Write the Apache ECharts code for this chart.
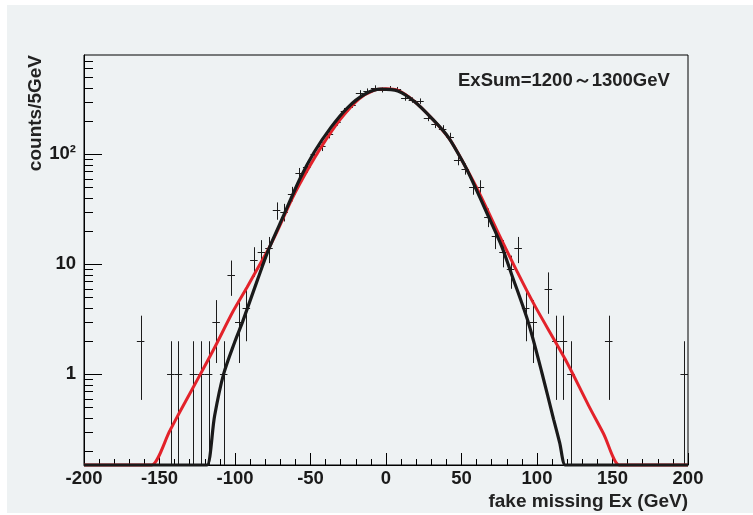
<!DOCTYPE html>
<html>
<head>
<meta charset="utf-8">
<script src="https://cdn.jsdelivr.net/npm/echarts@6/dist/echarts.min.js"></script>
<style>
  html, body { margin: 0; padding: 0; background: #ffffff; }
  #chart { position: absolute; left: 7px; top: 5px; width: 746px; height: 508px; }
</style>
</head>
<body>
<div id="chart"></div>
<script>
// ---- data ----
const binCenters = [-162.5, -142.5, -137.5, -127.5, -122.5, -117.5, -112.5, -107.5, -102.5, -97.5,
  -92.5, -87.5, -82.5, -77.5, -72.5, -67.5, -62.5, -57.5, -52.5, -47.5,
  -42.5, -37.5, -32.5, -27.5, -22.5, -17.5, -12.5, -7.5, -2.5, 2.5,
  7.5, 12.5, 17.5, 22.5, 27.5, 32.5, 37.5, 42.5, 47.5, 52.5,
  57.5, 62.5, 67.5, 72.5, 77.5, 82.5, 87.5, 92.5, 97.5, 107.5,
  112.5, 117.5, 122.5, 147.5, 197.5];
const binCounts = [2, 1, 1, 1, 1, 1, 3, 1, 8, 3,
  4, 11, 13, 14, 31, 30, 44, 67, 77, 100,
  118, 152, 196, 248, 281, 364, 378, 404, 385, 398,
  390, 325, 312, 305, 215, 187, 171, 145, 89, 74,
  50, 51, 27, 18, 13, 9, 14, 4, 3, 6,
  2, 2, 1, 2, 1];
const binHalfWidth = 2.5;

const blackFitX = [-200, -122, -118.5, -113.5, -107.6, -100, -95, -85, -77.7, -67.7,
  -57, -47.7, -36.6, -25.5, -14.4, -3.3, 7.8, 18.8, 30, 41,
  52, 57, 67.7, 76.5, 83.2, 94.3, 103.2, 111, 115, 118.7, 122, 200];
const blackFitY = [0.15, 0.15, 0.15, 0.42, 1.0, 2.0, 3.0, 7.3, 13.7, 28,
  60, 104, 175, 265, 350, 391, 377, 303, 215, 145,
  80, 58, 27.5, 14.7, 8.1, 2.95, 1.04, 0.39, 0.24, 0.15, 0.15, 0.15];

const redFitX = [-200, -158, -155.3, -143, -136.4, -123, -114, -101, -92, -83,
  -77, -72, -62, -52, -42, -30, -18, -8, 0, 8,
  18, 30, 42, 52, 62, 73.2, 87.2, 98.7, 118.7, 134.2, 144, 154.5, 157, 200];
const redFitY = [0.15, 0.15, 0.15, 0.31, 0.46, 1.0, 1.7, 3.8, 6.2, 10.3,
  14.5, 20, 40, 72, 122, 210, 318, 382, 395, 382,
  310, 215, 138, 80, 44, 20.8, 8.4, 4.17, 1.37, 0.52, 0.29, 0.15, 0.15, 0.15];

const xMin = -200, xMax = 200, xStep = 50;
const yMin = 0.15, yMax = 800;
const yMajorTicks = [1, 10, 100];
const yMajorLabels = ['1', '10', '10²'];
const yMinorTicks = [0.2, 0.3, 0.4, 0.5, 0.6, 0.7, 0.8, 0.9,
  2, 3, 4, 5, 6, 7, 8, 9,
  20, 30, 40, 50, 60, 70, 80, 90,
  200, 300, 400, 500, 600, 700];

const titleText = 'ExSum=1200～1300GeV';
const xTitle = 'fake missing Ex (GeV)';
const yTitle = 'counts/5GeV';

// ---- chart ----
const FONT = '"Liberation Sans", Arial, Helvetica, sans-serif';
const chart = echarts.init(document.getElementById('chart'), null, { renderer: 'canvas' });

const points = binCenters.map((x, i) => [x, binCounts[i]]);
const blackData = blackFitX.map((x, i) => [x, blackFitY[i]]);
const redData = redFitX.map((x, i) => [x, redFitY[i]]);

function renderCross(params, api) {
  const x = api.value(0), n = api.value(1);
  const e = Math.sqrt(n);
  const lo = Math.max(n - e, yMin);
  const hi = Math.min(n + e, yMax);
  const pc = api.coord([x, n]);
  const pl = api.coord([x - binHalfWidth, n]);
  const pr = api.coord([x + binHalfWidth, n]);
  const pLo = api.coord([x, lo]);
  const pHi = api.coord([x, hi]);
  const cx = Math.round(pc[0]) + 0.5;
  const cy = Math.round(pc[1]) + 0.5;
  const st = { stroke: '#1c1c1c', lineWidth: 1 };
  return {
    type: 'group',
    children: [
      { type: 'line', shape: { x1: pl[0], y1: cy, x2: pr[0], y2: cy }, style: st },
      { type: 'line', shape: { x1: cx, y1: pHi[1], x2: cx, y2: pLo[1] }, style: st }
    ]
  };
}

const option = {
  backgroundColor: '#eef2f3',
  animation: false,
  grid: {
    left: 77, right: 65, top: 50, bottom: 48,
    show: true, borderColor: '#000', borderWidth: 1, backgroundColor: 'transparent',
    outerBoundsMode: 'none', containLabel: false
  },
  xAxis: {
    type: 'value', min: xMin, max: xMax, interval: xStep,
    axisLine: { show: true, onZero: false, lineStyle: { color: '#000', width: 1 } },
    axisTick: { show: true, inside: true, length: 12, lineStyle: { color: '#000', width: 1 } },
    minorTick: { show: true, splitNumber: 5, length: 6, lineStyle: { color: '#000', width: 1 } },
    axisLabel: { show: true, margin: 4, color: '#1a1a1a', fontSize: 18.5, fontWeight: 'bold', fontFamily: FONT,
      showMinLabel: true, showMaxLabel: true, hideOverlap: false },
    splitLine: { show: false }
  },
  yAxis: [
    {
      type: 'log', logBase: 10, min: yMin, max: yMax, position: 'left',
      axisLine: { show: true, onZero: false, lineStyle: { color: '#000', width: 1 } },
      axisTick: { show: true, inside: true, length: 18, customValues: yMajorTicks, lineStyle: { color: '#000', width: 1 } },
      axisLabel: {
        show: true, margin: 8, color: '#1a1a1a', fontSize: 18.5, fontWeight: 'bold', fontFamily: FONT,
        customValues: yMajorTicks,
        formatter: function (v) {
          const i = yMajorTicks.findIndex(t => Math.abs(t - v) / t < 1e-6);
          return i >= 0 ? yMajorLabels[i] : '';
        }
      },
      splitLine: { show: false }
    },
    {
      type: 'log', logBase: 10, min: yMin, max: yMax, position: 'left', offset: 0,
      axisLine: { show: false, onZero: false },
      axisTick: { show: true, inside: true, length: 9, customValues: yMinorTicks, lineStyle: { color: '#000', width: 1 } },
      axisLabel: { show: false },
      splitLine: { show: false }
    }
  ],
  graphic: [
    { type: 'text', left: 451, top: 66, style: { text: titleText, font: 'bold 18.5px ' + FONT, fill: '#222' } },
    { type: 'text', x: 681, y: 497, style: { text: xTitle, font: 'bold 19px ' + FONT, fill: '#222', align: 'right', verticalAlign: 'middle' } },
    { type: 'text', x: 29, y: 50, rotation: Math.PI / 2, style: { text: yTitle, font: 'bold 19px ' + FONT, fill: '#222', align: 'right', verticalAlign: 'middle' } }
  ],
  series: [
    {
      type: 'custom', name: 'data', xAxisIndex: 0, yAxisIndex: 0,
      renderItem: renderCross, data: points, encode: { x: 0, y: 1 }, z: 2, clip: true
    },
    {
      type: 'line', name: 'fit2', xAxisIndex: 0, yAxisIndex: 0, data: redData,
      showSymbol: false, smooth: 0.3, clip: false, z: 3,
      lineStyle: { color: '#e3222a', width: 3 }
    },
    {
      type: 'line', name: 'fit1', xAxisIndex: 0, yAxisIndex: 0, data: blackData,
      showSymbol: false, smooth: 0.3, clip: false, z: 4,
      lineStyle: { color: '#1a1a1a', width: 3.2 }
    }
  ]
};
chart.setOption(option);
</script>
</body>
</html>
